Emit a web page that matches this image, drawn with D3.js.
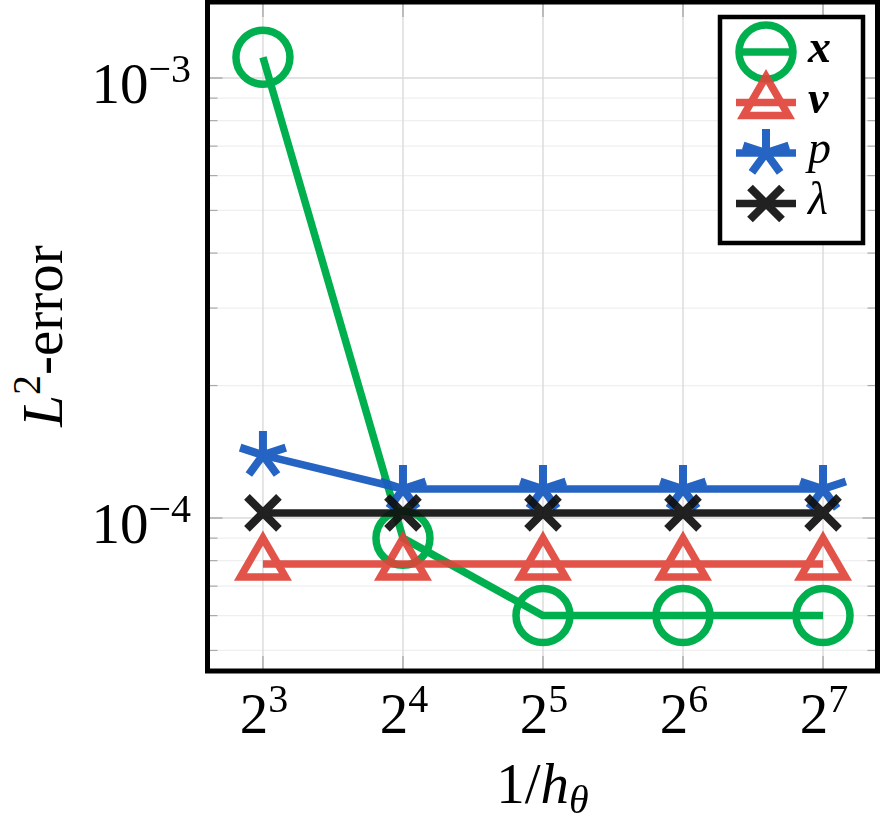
<!DOCTYPE html>
<html>
<head>
<meta charset="utf-8">
<script src="https://cdn.jsdelivr.net/npm/d3@7"></script>
<style>
  html, body { margin: 0; padding: 0; background: #fff; }
  svg { display: block; font-family: "Liberation Serif", "DejaVu Serif", serif; }
</style>
</head>
<body>
<svg id="chart" width="881" height="830"></svg>
<script>
// data
const hInv = [8, 16, 32, 64, 128];
const errX = [1.115e-3, 9.0e-5, 6.0e-5, 6.0e-5, 6.0e-5];
const errV = [7.86e-5, 7.86e-5, 7.86e-5, 7.86e-5, 7.86e-5];
const errP = [1.39e-4, 1.164e-4, 1.164e-4, 1.164e-4, 1.164e-4];
const errL = [1.027e-4, 1.027e-4, 1.027e-4, 1.027e-4, 1.027e-4];

const xTickExp = [3, 4, 5, 6, 7];
const yTickExp = [-4, -3];

const series = [
  {name: "x", values: errX, color: "#00b04f", mark: "circle", opacity: 1, style: "bolditalic"},
  {name: "v", values: errV, color: "#e0443a", mark: "triangle", opacity: 0.92, style: "bolditalic"},
  {name: "p", values: errP, color: "#1a5cbf", mark: "asterisk", opacity: 0.95, style: "italic"},
  {name: "\u03bb", values: errL, color: "#111111", mark: "cross", opacity: 0.93, style: "italic"},
];

// layout
const plotL = 207.5, plotR = 877.5, plotT = 2, plotB = 671;
const fs = 57, supFs = 40, legFs = 46;
const lw = 7.5;

const svg = d3.select('#chart');

const x = d3.scaleLog().base(2)
  .domain([Math.pow(2, 2.604), Math.pow(2, 7.389)])
  .range([plotL, plotR]);
const y = d3.scaleLog()
  .domain([Math.pow(10, -4.3477), Math.pow(10, -2.8273)])
  .range([plotB, plotT]);

// grid
const grid = svg.append('g');
const minor = y.ticks().filter(v => Math.abs(Math.log10(v) - Math.round(Math.log10(v))) > 1e-6);
const major = yTickExp.map(e => Math.pow(10, e));

grid.append('g').selectAll('line').data(minor).join('line')
  .attr('x1', plotL).attr('x2', plotR)
  .attr('y1', d => y(d)).attr('y2', d => y(d))
  .attr('stroke', '#efefef').attr('stroke-width', 1.2);
grid.append('g').selectAll('line').data(major).join('line')
  .attr('x1', plotL).attr('x2', plotR)
  .attr('y1', d => y(d)).attr('y2', d => y(d))
  .attr('stroke', '#dadada').attr('stroke-width', 1.4);
grid.append('g').selectAll('line').data(xTickExp).join('line')
  .attr('y1', plotT).attr('y2', plotB)
  .attr('x1', d => x(Math.pow(2, d))).attr('x2', d => x(Math.pow(2, d)))
  .attr('stroke', '#dadada').attr('stroke-width', 1.4);

// ticks (inside, all sides)
const ticks = svg.append('g').attr('stroke', '#aaaaaa');
[[plotL, 1], [plotR, -1]].forEach(([x0, s]) => {
  ticks.append('g').selectAll('line').data(minor).join('line')
    .attr('x1', x0).attr('x2', x0 + s * 10)
    .attr('y1', d => y(d)).attr('y2', d => y(d)).attr('stroke-width', 1.2);
  ticks.append('g').selectAll('line').data(major).join('line')
    .attr('x1', x0).attr('x2', x0 + s * 15)
    .attr('y1', d => y(d)).attr('y2', d => y(d)).attr('stroke-width', 1.4);
});
[[plotT, 1], [plotB, -1]].forEach(([y0, s]) => {
  ticks.append('g').selectAll('line').data(xTickExp).join('line')
    .attr('y1', y0).attr('y2', y0 + s * 15)
    .attr('x1', d => x(Math.pow(2, d))).attr('x2', d => x(Math.pow(2, d))).attr('stroke-width', 1.4);
});

// marker shapes
function drawMark(g, type, color) {
  if (type === 'circle') {
    g.append('circle').attr('r', 27).attr('fill', 'none')
      .attr('stroke', color).attr('stroke-width', 7.5);
  } else if (type === 'triangle') {
    const R = 26;
    const pts = [0, 1, 2].map(i => {
      const a = -Math.PI / 2 + i * 2 * Math.PI / 3;
      return [R * Math.cos(a), R * Math.sin(a)];
    });
    g.append('path').attr('d', d3.line()(pts) + 'Z')
      .attr('fill', 'none').attr('stroke', color)
      .attr('stroke-width', 7.5).attr('stroke-linejoin', 'miter');
  } else if (type === 'asterisk') {
    const r = 24;
    let d = '';
    for (let i = 0; i < 5; i++) {
      const a = -Math.PI / 2 + i * 2 * Math.PI / 5;
      d += `M0,0L${r * Math.cos(a)},${r * Math.sin(a)}`;
    }
    g.append('path').attr('d', d).attr('fill', 'none')
      .attr('stroke', color).attr('stroke-width', 8).attr('stroke-linecap', 'butt');
  } else if (type === 'cross') {
    const r = 16;
    g.append('path').attr('d', `M${-r},${-r}L${r},${r}M${-r},${r}L${r},${-r}`)
      .attr('fill', 'none').attr('stroke', color)
      .attr('stroke-width', 8).attr('stroke-linecap', 'butt');
  }
}

// series
const line = d3.line().x(d => x(d[0])).y(d => y(d[1]));
series.forEach(s => {
  const pts = hInv.map((h, i) => [h, s.values[i]]);
  const g = svg.append('g').attr('opacity', s.opacity);
  g.append('path').datum(pts).attr('d', line)
    .attr('fill', 'none').attr('stroke', s.color).attr('stroke-width', lw)
    .attr('stroke-linejoin', 'round');
  pts.forEach(p => {
    const m = g.append('g').attr('transform', `translate(${x(p[0])},${y(p[1])})`);
    drawMark(m, s.mark, s.color);
  });
});

// frame
svg.append('rect')
  .attr('x', plotL).attr('y', plotT)
  .attr('width', plotR - plotL).attr('height', plotB - plotT)
  .attr('fill', 'none').attr('stroke', '#000').attr('stroke-width', 5);

// x tick labels
svg.append('g').selectAll('text').data(xTickExp).join('text')
  .attr('x', d => x(Math.pow(2, d)) + 1)
  .attr('y', 733)
  .attr('text-anchor', 'middle')
  .attr('font-size', fs)
  .each(function(d) {
    const t = d3.select(this);
    t.append('tspan').text('2');
    t.append('tspan').attr('font-size', supFs).attr('dy', -21).text(d);
  });

// y tick labels
svg.append('g').selectAll('text').data(yTickExp).join('text')
  .attr('x', 191)
  .attr('y', d => y(Math.pow(10, d)) + 25)
  .attr('text-anchor', 'end')
  .attr('font-size', fs)
  .each(function(d) {
    const t = d3.select(this);
    t.append('tspan').text('10');
    t.append('tspan').attr('font-size', supFs).attr('dy', -21).text('\u2212' + Math.abs(d));
  });

// axis labels
const xl = svg.append('text')
  .attr('x', (plotL + plotR) / 2).attr('y', 803)
  .attr('text-anchor', 'middle').attr('font-size', fs);
xl.append('tspan').text('1/');
xl.append('tspan').attr('font-style', 'italic').text('h');
xl.append('tspan').attr('font-style', 'italic').attr('font-size', supFs).attr('dy', 10).text('\u03b8');

const yl = svg.append('text')
  .attr('transform', `translate(62,${336}) rotate(-90)`)
  .attr('text-anchor', 'middle').attr('font-size', fs);
yl.append('tspan').attr('font-style', 'italic').text('L');
yl.append('tspan').attr('font-size', supFs).attr('dy', -22).text('2');
yl.append('tspan').attr('dy', 22).text('-error');

// legend
const lg = svg.append('g');
lg.append('rect')
  .attr('x', 720).attr('y', 17).attr('width', 143).attr('height', 226)
  .attr('fill', '#fff').attr('stroke', '#000').attr('stroke-width', 4.5);
series.forEach((s, i) => {
  const cy = 52 + i * 50.5;
  const g = lg.append('g').attr('opacity', s.opacity);
  g.append('line').attr('x1', 736).attr('x2', 796).attr('y1', cy).attr('y2', cy)
    .attr('stroke', s.color).attr('stroke-width', lw);
  drawMark(g.append('g').attr('transform', `translate(766,${cy})`), s.mark, s.color);
  lg.append('text')
    .attr('x', 808).attr('y', cy + 10)
    .attr('font-size', legFs)
    .attr('font-style', 'italic')
    .attr('font-weight', s.style === 'bolditalic' ? 'bold' : 'normal')
    .text(s.name);
});
</script>
</body>
</html>
